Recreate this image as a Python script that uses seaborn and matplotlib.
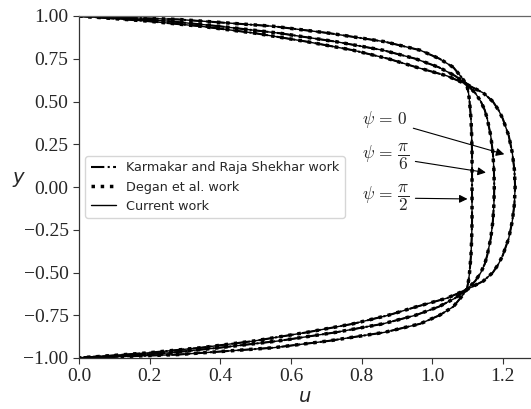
import matplotlib
matplotlib.use("Agg")
import matplotlib.pyplot as plt
import seaborn as sns
import pandas as pd

# ---- data ----
y_vals = [1.0, 0.98, 0.97, 0.94, 0.90, 0.85, 0.80, 0.75, 0.70, 0.65, 0.60, 0.55, 0.50, 0.45,
          0.40, 0.30, 0.20, 0.10, 0.0,
          -0.10, -0.20, -0.30, -0.40, -0.45, -0.50, -0.55, -0.60, -0.65, -0.70, -0.75, -0.80,
          -0.85, -0.90, -0.94, -0.97, -0.98, -1.0]
u_psi0 = [0.0, 0.13, 0.195, 0.345, 0.497, 0.645, 0.776, 0.876, 0.956, 1.042, 1.098, 1.145, 1.172, 1.188,
          1.200, 1.217, 1.227, 1.233, 1.235,
          1.233, 1.227, 1.217, 1.200, 1.188, 1.172, 1.145, 1.098, 1.042, 0.956, 0.876, 0.776,
          0.645, 0.497, 0.345, 0.195, 0.13, 0.0]
u_psi_pi6 = [0.0, 0.17, 0.254, 0.397, 0.566, 0.727, 0.861, 0.953, 1.019, 1.065, 1.098, 1.122, 1.138, 1.149,
             1.156, 1.166, 1.172, 1.175, 1.176,
             1.175, 1.172, 1.166, 1.156, 1.149, 1.138, 1.122, 1.098, 1.065, 1.019, 0.953, 0.861,
             0.727, 0.566, 0.397, 0.254, 0.17, 0.0]
u_psi_pi2 = [0.0, 0.28, 0.348, 0.55, 0.707, 0.865, 0.966, 1.021, 1.06, 1.080, 1.098, 1.103, 1.106, 1.108,
             1.110, 1.112, 1.113, 1.113, 1.113,
             1.113, 1.113, 1.112, 1.110, 1.108, 1.106, 1.103, 1.098, 1.080, 1.06, 1.021, 0.966,
             0.865, 0.707, 0.55, 0.348, 0.28, 0.0]
sources = ["Karmakar and Raja Shekhar work", "Degan et al. work", "Current work"]
x_ticks = [0.0, 0.2, 0.4, 0.6, 0.8, 1.0, 1.2]
y_ticks = [-1.00, -0.75, -0.50, -0.25, 0.00, 0.25, 0.50, 0.75, 1.00]

sns.set_style("ticks")
plt.rcParams["font.family"] = ["Liberation Serif", "DejaVu Sans"]
plt.rcParams["mathtext.fontset"] = "cm"

fig = plt.figure(figsize=(5.31, 4.09), dpi=100)
ax = fig.add_axes([79 / 531, 51 / 409, 452 / 531, 342 / 409])

styles = {sources[0]: dict(linestyle="-.", linewidth=1.5),
          sources[1]: dict(linestyle=":", linewidth=2.5),
          sources[2]: dict(linestyle="-", linewidth=1.0)}

curves = [u_psi0, u_psi_pi6, u_psi_pi2]
for src in sources:
    for i, u in enumerate(curves):
        df = pd.DataFrame({"u": u, "y": y_vals})
        sns.lineplot(data=df, x="u", y="y", sort=False, estimator=None, ax=ax,
                     color="black", label=src if i == 0 else None, **styles[src])

ax.set_xlim(0, 1.28)
ax.set_ylim(-1, 1)
ax.set_xticks(x_ticks)
ax.set_xticklabels([f"{v:.1f}" for v in x_ticks])
ax.set_yticks(y_ticks)
ax.set_yticklabels([f"{v:.2f}".replace("-", "\u2212") for v in y_ticks])
ax.tick_params(labelsize=14, length=4, width=0.8, color="#333333")
for s in ax.spines.values():
    s.set_linewidth(0.9)
    s.set_color("#333333")
ax.spines["top"].set_color("#666666")
ax.spines["right"].set_visible(False)

ax.set_xlabel("u", fontsize=14, fontstyle="italic", family="DejaVu Sans")
ax.set_ylabel("y", fontsize=14, fontstyle="italic", family="DejaVu Sans", rotation=0)
ax.yaxis.set_label_coords(-0.135, 0.50)
ax.xaxis.set_label_coords(0.5, -0.085)

leg = ax.legend(loc="center left", prop={"family": "DejaVu Sans", "size": 9.2},
                handlelength=2.0, borderaxespad=0.5)

arrow = dict(arrowstyle="-|>", color="black", lw=0.8, mutation_scale=12)
ax.annotate(r"$\psi\,=\,0$", xy=(1.212, 0.187), xytext=(0.80, 0.392),
            ha="left", va="center", fontsize=12.5, arrowprops=arrow)
ax.annotate(r"$\psi\,=\,\dfrac{\pi}{6}$", xy=(1.16, 0.082), xytext=(0.80, 0.177),
            ha="left", va="center", fontsize=12.5, arrowprops=arrow)
ax.annotate(r"$\psi\,=\,\dfrac{\pi}{2}$", xy=(1.108, -0.07), xytext=(0.80, -0.064),
            ha="left", va="center", fontsize=12.5, arrowprops=arrow)

fig.savefig("out.png", dpi=100)
